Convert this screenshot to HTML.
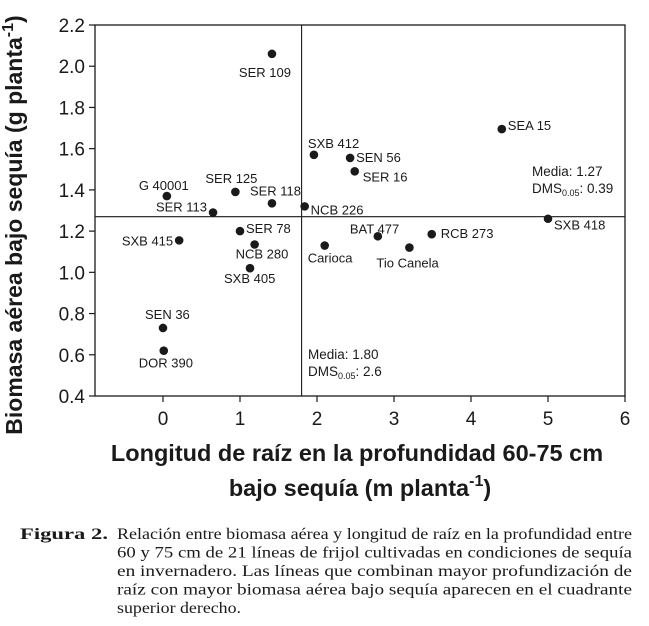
<!DOCTYPE html>
<html><head><meta charset="utf-8"><style>
html,body{margin:0;padding:0;background:#fff;}
svg{display:block;}
text{font-family:"Liberation Sans",Arial,sans-serif;fill:#1a1a1a;}
.cap{font-family:"Liberation Serif",serif;font-size:16px;}
</style></head><body>
<svg id="chart" width="649" height="626" viewBox="0 0 649 626">
<g id="axes"></g>
<g id="marks"></g>
<text x="22" y="225" transform="rotate(-90 22 225)" text-anchor="middle" font-weight="bold" font-size="23">Biomasa aérea bajo sequía (g planta<tspan dy="-9" font-size="16">-1</tspan><tspan dy="9">)</tspan></text>
<text x="357" y="461" text-anchor="middle" font-weight="bold" font-size="23.5">Longitud de raíz en la profundidad 60-75 cm</text>
<text x="360" y="496" text-anchor="middle" font-weight="bold" font-size="23.5">bajo sequía (m planta<tspan dy="-10" font-size="16">-1</tspan><tspan dy="10">)</tspan></text>
<text x="532" y="176" font-size="13.5">Media: 1.27</text>
<text x="532" y="193" font-size="13.5">DMS<tspan font-size="9" dy="3">0.05</tspan><tspan dy="-3">: 0.39</tspan></text>
<text x="308" y="359" font-size="13.5">Media: 1.80</text>
<text x="308" y="376" font-size="13.5">DMS<tspan font-size="9" dy="3">0.05</tspan><tspan dy="-3">: 2.6</tspan></text>
<g>
<text class="cap" x="20" y="539" font-weight="bold" textLength="88" lengthAdjust="spacingAndGlyphs">Figura 2.</text>
<text class="cap" x="117" y="539" textLength="515" lengthAdjust="spacingAndGlyphs">Relación entre biomasa aérea y longitud de raíz en la profundidad entre</text>
<text class="cap" x="117" y="557.5" textLength="515" lengthAdjust="spacingAndGlyphs">60 y 75 cm de 21 líneas de frijol cultivadas en condiciones de sequía</text>
<text class="cap" x="117" y="576" textLength="515" lengthAdjust="spacingAndGlyphs">en invernadero. Las líneas que combinan mayor profundización de</text>
<text class="cap" x="117" y="594.5" textLength="515" lengthAdjust="spacingAndGlyphs">raíz con mayor biomasa aérea bajo sequía aparecen en el cuadrante</text>
<text class="cap" x="117" y="613" textLength="124" lengthAdjust="spacingAndGlyphs">superior derecho.</text>
</g>
</svg>
<script>
const names = ["SER 109","SEA 15","SXB 412","SEN 56","SER 16","G 40001","SER 125","SER 118","NCB 226","SER 113","SXB 418","SER 78","SXB 415","NCB 280","Carioca","BAT 477","RCB 273","Tio Canela","SXB 405","SEN 36","DOR 390"];
const xVals = [1.415,4.40,1.96,2.43,2.49,0.05,0.94,1.415,1.84,0.65,5.0,1.0,0.21,1.19,2.1,2.79,3.49,3.2,1.13,0.0,0.01];
const yVals = [2.06,1.695,1.57,1.555,1.49,1.37,1.39,1.335,1.32,1.29,1.26,1.2,1.155,1.135,1.13,1.175,1.185,1.12,1.02,0.73,0.62];
const xTicks = [0,1,2,3,4,5,6];
const yTicks = [0.4,0.6,0.8,1.0,1.2,1.4,1.6,1.8,2.0,2.2];
const xMean = 1.80;
const yMean = 1.27;
// label layout offsets (px) - presentation only
const labelLayout = [[-7,23,"middle"],[6,1,"start"],[-6,-7,"start"],[6,4,"start"],[8,10,"start"],[-28,-6,"start"],[-30,-9,"start"],[-22,-8,"start"],[6,8,"start"],[-6,-1,"end"],[6,11,"start"],[6,2,"start"],[-6,5,"end"],[-19,14,"start"],[-17,17,"start"],[-28,-3,"start"],[9,4,"start"],[-33,20,"start"],[-26,15,"start"],[-18,-9,"start"],[-25,17,"start"]];

const X0=95, X1=625, Y0=25, Y1=396;
const xMin=-0.883, xMax=6, yMin=0.4, yMax=2.2;
const sx = v => X0 + (v-xMin)/(xMax-xMin)*(X1-X0);
const sy = v => Y1 - (v-yMin)/(yMax-yMin)*(Y1-Y0);
const NS="http://www.w3.org/2000/svg";
function mk(tag, attrs, parent){const e=document.createElementNS(NS,tag);for(const k in attrs)e.setAttribute(k,attrs[k]);parent.appendChild(e);return e;}
const axes=document.getElementById('axes'), marks=document.getElementById('marks');
let f=mk('rect',{x:X0,y:Y0,width:X1-X0,height:Y1-Y0,fill:'none',stroke:'#1a1a1a','stroke-width':1.3},axes);


xTicks.forEach(t=>{
  const l=mk('line',{x1:sx(t),x2:sx(t),y1:Y1,y2:Y1+6,stroke:'#1a1a1a','stroke-width':1.2},axes);
  
  
  const tx=mk('text',{x:sx(t),y:Y1+29,'text-anchor':'middle','font-size':19},axes);
  tx.textContent=String(t);
  
  
});
yTicks.forEach(t=>{
  const l=mk('line',{x1:X0-6,x2:X0,y1:sy(t),y2:sy(t),stroke:'#1a1a1a','stroke-width':1.2},axes);
  
  
  const tx=mk('text',{x:X0-10,y:sy(t)+7,'text-anchor':'end','font-size':19},axes);
  tx.textContent=t.toFixed(1);
  
  
});
const vm=mk('line',{x1:sx(xMean),x2:sx(xMean),y1:Y0,y2:Y1,stroke:'#1a1a1a','stroke-width':1.1},axes);


const hm=mk('line',{x1:X0,x2:X1,y1:sy(yMean),y2:sy(yMean),stroke:'#1a1a1a','stroke-width':1.1},axes);


names.forEach((n,i)=>{
  const cx=sx(xVals[i]), cy=sy(yVals[i]);
  const c=mk('circle',{cx:cx,cy:cy,r:4.3,fill:'#1a1a1a'},marks);
  
  
  const L=labelLayout[i];
  const t=mk('text',{x:cx+L[0],y:cy+L[1],'text-anchor':L[2],'font-size':13},marks);
  t.textContent=n;
  
  
});
</script>
</body></html>
